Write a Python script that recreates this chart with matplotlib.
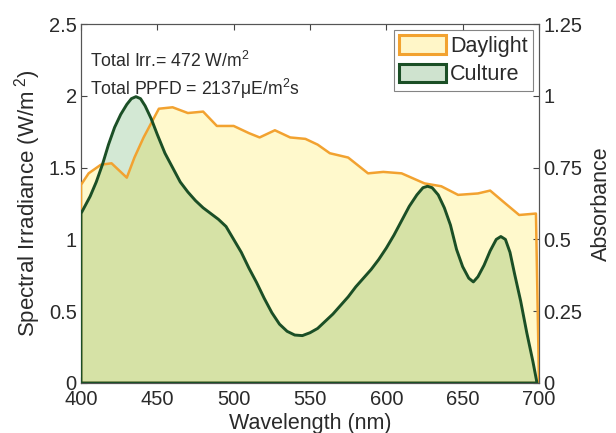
import matplotlib
matplotlib.use("Agg")
import matplotlib.pyplot as plt
from matplotlib.patches import Patch

plt.rcParams['font.family'] = ['Liberation Sans', 'DejaVu Sans']
plt.rcParams['mathtext.fontset'] = 'custom'
plt.rcParams['mathtext.rm'] = 'Liberation Sans'
plt.rcParams['mathtext.it'] = 'Liberation Sans:italic'

# Daylight spectral irradiance (W/m^2)
day_wl = [400, 405, 413, 420, 423, 430, 435, 441, 447, 451, 460, 470, 480, 489,
          500, 510, 517, 527, 537, 547, 555, 563, 575, 588, 598, 610, 625, 636,
          647, 660, 668, 678, 687, 698, 700]
day_irr = [1.38, 1.46, 1.52, 1.53, 1.50, 1.43, 1.57, 1.71, 1.83, 1.91, 1.92, 1.88,
           1.89, 1.79, 1.79, 1.74, 1.71, 1.76, 1.71, 1.70, 1.66, 1.60, 1.57, 1.46,
           1.47, 1.46, 1.39, 1.37, 1.31, 1.32, 1.34, 1.25, 1.17, 1.18, 0.0]

# Culture absorbance
cul_wl = [400, 403, 406, 410, 414, 418, 422, 426, 430, 433, 436, 439, 442, 446,
          450, 455, 460, 465, 470, 475, 480, 485, 490, 495, 500, 505, 510, 515,
          520, 525, 530, 535, 540, 545, 550, 555, 560, 565, 570, 575, 580, 585,
          590, 595, 600, 605, 610, 615, 620, 624, 627, 630, 634, 638, 642, 646,
          650, 654, 657, 660, 664, 668, 672, 675, 678, 681, 684, 688, 692, 696,
          698.7]
cul_abs = [0.59, 0.62, 0.65, 0.70, 0.76, 0.83, 0.89, 0.935, 0.97, 0.99, 0.997,
           0.99, 0.965, 0.92, 0.865, 0.80, 0.75, 0.70, 0.665, 0.635, 0.61, 0.59,
           0.57, 0.545, 0.50, 0.455, 0.40, 0.35, 0.295, 0.245, 0.205, 0.18, 0.167,
           0.165, 0.175, 0.19, 0.215, 0.24, 0.27, 0.30, 0.335, 0.365, 0.395, 0.43,
           0.47, 0.515, 0.565, 0.615, 0.655, 0.68, 0.685, 0.68, 0.655, 0.61, 0.55,
           0.465, 0.405, 0.365, 0.352, 0.37, 0.41, 0.46, 0.50, 0.51, 0.50, 0.455,
           0.38, 0.285, 0.175, 0.075, 0.0]

left_ticks = [0, 0.5, 1, 1.5, 2, 2.5]
left_labels = ['0', '0.5', '1', '1.5', '2', '2.5']
right_ticks = [0, 0.25, 0.5, 0.75, 1, 1.25]
right_labels = ['0', '0.25', '0.5', '0.75', '1', '1.25']
x_ticks = [400, 450, 500, 550, 600, 650, 700]

ORANGE = '#F2A230'
DKGREEN = '#1B4F26'
DAY_FILL = '#FFF9CC'
CUL_FILL = '#D3E8D4'
OVL_FILL = '#D6E2A6'
TXT = '#2a2a2a'

fig = plt.figure(figsize=(6.16, 4.33), dpi=100)
ax1 = fig.add_axes([81/616, 1-383/433, (539-81)/616, (383-24)/433])
ax2 = ax1.twinx()

day_poly = ax1.fill_between(day_wl, 0, day_irr, facecolor=DAY_FILL,
                            edgecolor='none', zorder=2)
ax1.set_xlim(400, 700)
ax1.set_ylim(0, 2.5)
ax2.set_ylim(0, 1.25)

ax2.fill_between(cul_wl, 0, cul_abs, facecolor=CUL_FILL, edgecolor='none', zorder=2)
ovl = ax2.fill_between(cul_wl, 0, cul_abs, facecolor=OVL_FILL,
                       edgecolor='none', zorder=3)
ovl.set_clip_path(day_poly.get_paths()[0], ax1.transData)
# daylight outline drawn on ax2 (in ax1 data coords) so it sits above fills
ax2.fill_between(day_wl, 0, day_irr, facecolor='none', edgecolor=ORANGE,
                 linewidth=1.8, zorder=4, transform=ax1.transData)
ax2.fill_between(cul_wl, 0, cul_abs, facecolor='none', edgecolor=DKGREEN,
                 linewidth=2.1, zorder=5, joinstyle='round')

ax1.set_xticks(x_ticks)
ax1.set_xticklabels([str(t) for t in x_ticks])
ax1.set_yticks(left_ticks)
ax1.set_yticklabels(left_labels)
ax2.set_yticks(right_ticks)
ax2.set_yticklabels(right_labels)

for ax in (ax1, ax2):
    ax.tick_params(direction='in', length=4, width=0.8, colors='#444444',
                   labelsize=14.5, labelcolor=TXT, pad=3)
    for s in ax.spines.values():
        s.set_color('#555555')
        s.set_linewidth(0.8)
ax1.tick_params(axis='x', top=True, pad=5)

ax1.set_xlabel('Wavelength (nm)', fontsize=15.5, color=TXT, labelpad=3)
ax1.set_ylabel('Spectral Irradiance (W/m$^{\\ 2}$)', fontsize=16, color=TXT, labelpad=4)
ax2.set_ylabel('Absorbance', fontsize=15.5, color=TXT, labelpad=6)

ax1.text(406, 2.24, 'Total Irr.= 472 W/m$^2$', fontsize=12.7, color=TXT,
         va='center', ha='left', zorder=10)
ax1.text(406, 2.05, 'Total PPFD = 2137μE/m$^2$s', fontsize=12.7, color=TXT,
         va='center', ha='left', zorder=10)

handles = [Patch(facecolor='#FFF6C8', edgecolor=ORANGE, linewidth=2.2, label='Daylight'),
           Patch(facecolor='#CFE3CF', edgecolor=DKGREEN, linewidth=2.2, label='Culture')]
leg = ax2.legend(handles=handles, loc='upper right', fontsize=15.5, frameon=True,
                 fancybox=False, edgecolor='#666666', borderpad=0.25,
                 handlelength=2.15, handleheight=0.95, handletextpad=0.2,
                 labelspacing=0.3, borderaxespad=0.28)
leg.get_frame().set_linewidth(0.8)
leg.set_zorder(20)
for t in leg.get_texts():
    t.set_color(TXT)

fig.savefig('out.png', dpi=100)
